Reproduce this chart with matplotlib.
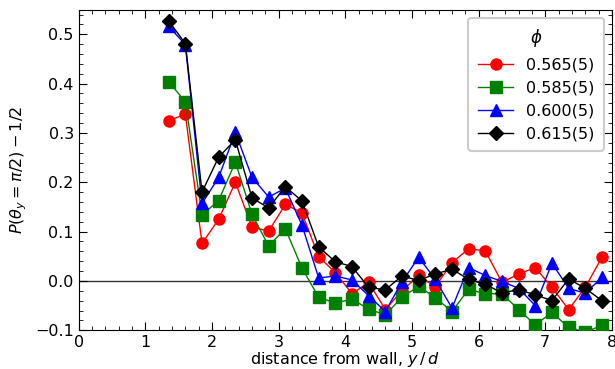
import numpy as np
import matplotlib
matplotlib.use("Agg")
import matplotlib.pyplot as plt
from matplotlib.ticker import MultipleLocator

# distance from wall, y/d
dist = 1.35 + 0.25 * np.arange(27)

phi_labels = ["0.565(5)", "0.585(5)", "0.600(5)", "0.615(5)"]

p565 = [0.325, 0.338, 0.076, 0.125, 0.200, 0.109, 0.101, 0.155, 0.138, 0.049,
        0.017, -0.026, -0.003, -0.058, -0.020, 0.011, -0.012, 0.037, 0.065, 0.061,
        -0.003, 0.014, 0.027, -0.013, -0.058, -0.013, 0.048]
p585 = [0.404, 0.363, 0.134, 0.163, 0.241, 0.135, 0.071, 0.106, 0.026, -0.033,
        -0.045, -0.037, -0.057, -0.069, -0.033, -0.011, -0.034, -0.062, -0.017, -0.026,
        -0.026, -0.058, -0.089, -0.064, -0.094, -0.104, -0.090]
p600 = [0.516, 0.479, 0.157, 0.210, 0.301, 0.210, 0.170, 0.188, 0.113, 0.006,
        0.010, 0.002, -0.030, -0.062, -0.002, 0.048, 0.003, -0.055, 0.027, 0.011,
        -0.001, -0.015, -0.050, 0.036, -0.015, -0.025, 0.007]
p615 = [0.527, 0.481, 0.180, 0.251, 0.286, 0.168, 0.148, 0.191, 0.162, 0.069,
        0.039, 0.029, -0.013, -0.018, 0.010, 0.001, 0.014, 0.024, 0.003, -0.007,
        -0.024, -0.018, -0.028, -0.040, 0.004, -0.015, -0.040]

series = [p565, p585, p600, p615]
colors = ["red", "green", "blue", "black"]
markers = ["o", "s", "^", "D"]

fig = plt.figure(figsize=(6.15, 3.69), dpi=100)
ax = fig.add_axes([0.128, 0.105, 0.867, 0.869])

ax.axhline(0, color="#333333", lw=1.0, zorder=1)

for vals, lab, c, m in zip(series, phi_labels, colors, markers):
    ax.plot(dist, vals, color=c, marker=m, ms=8 if m != "D" else 7.5,
            lw=1.0, label=lab, zorder=3)

ax.set_xlim(0, 8)
ax.set_ylim(-0.1, 0.55)
ax.xaxis.set_major_locator(MultipleLocator(1))
ax.xaxis.set_minor_locator(MultipleLocator(0.2))
ax.yaxis.set_major_locator(MultipleLocator(0.1))
ax.yaxis.set_minor_locator(MultipleLocator(0.02))
ax.tick_params(which="both", direction="in", top=True, right=True, labelsize=11.5)
ax.tick_params(which="major", length=6)
ax.tick_params(which="minor", length=3)

ax.set_xlabel("distance from wall, $y\\,/\\,d$", fontsize=11.5, labelpad=0)
ax.set_ylabel("$P(\\theta_y = \\pi/2) - 1/2$", fontsize=11.5)

leg = ax.legend(title="$\\phi$", loc="upper right", fontsize=11.5,
                title_fontsize=12, framealpha=1, edgecolor="#cccccc",
                borderpad=0.6, handlelength=2.2)
leg.get_frame().set_linewidth(1.5)

fig.savefig("out.png", dpi=100)
